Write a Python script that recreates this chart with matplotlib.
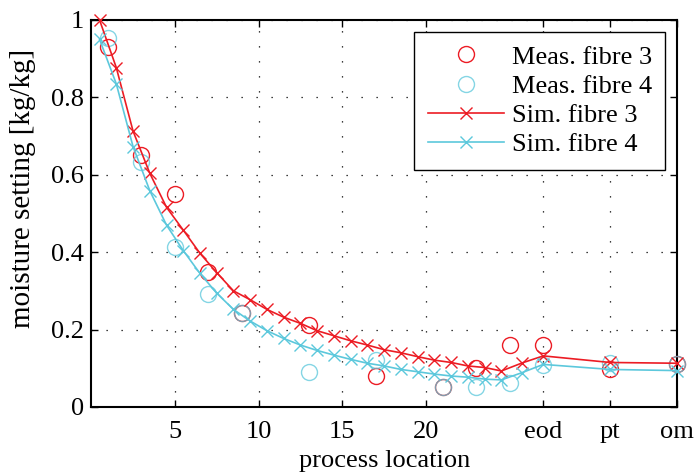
import numpy as np
import matplotlib.pyplot as plt

# --- dati ---
x_meas = [1, 3, 5, 7, 9, 13, 17, 21, 23, 25, 27, 31, 35]
meas_f3 = [0.93, 0.65, 0.55, 0.35, 0.242, 0.212, 0.080, 0.051, 0.100, 0.160, 0.160, 0.097, 0.112]
meas_f4 = [0.953, 0.633, 0.414, 0.292, 0.242, 0.091, 0.121, 0.051, 0.051, 0.061, 0.109, 0.114, 0.112]

x_sim = [0.5, 1.5, 2.5, 3.5, 4.5, 5.5, 6.5, 7.5, 8.5, 9.5, 10.5, 11.5, 12.5,
         13.5, 14.5, 15.5, 16.5, 17.5, 18.5, 19.5, 20.5, 21.5, 22.5, 23.5,
         24.5, 25.75, 27, 31, 35]
sim_f3 = [1.0, 0.877, 0.713, 0.604, 0.516, 0.457, 0.397, 0.347, 0.300, 0.277,
          0.252, 0.232, 0.216, 0.197, 0.184, 0.171, 0.160, 0.148, 0.140, 0.130,
          0.121, 0.115, 0.106, 0.102, 0.093, 0.114, 0.132, 0.115, 0.113]
sim_f4 = [0.95, 0.835, 0.673, 0.559, 0.470, 0.404, 0.345, 0.294, 0.252, 0.222,
          0.197, 0.177, 0.160, 0.146, 0.134, 0.123, 0.113, 0.106, 0.097, 0.091,
          0.085, 0.080, 0.077, 0.072, 0.070, 0.089, 0.110, 0.097, 0.094]

xtick_pos = [5, 10, 15, 20, 27, 31, 35]
xtick_lab = ['5', '10', '15', '20', 'eod', 'pt', 'om']
ytick_pos = [0, 0.2, 0.4, 0.6, 0.8, 1]
ytick_lab = ['0', '0.2', '0.4', '0.6', '0.8', '1']

RED = '#ec1c24'
CYAN = '#5cc8dc'

plt.rcParams['font.family'] = ['Liberation Serif', 'DejaVu Serif']

fig = plt.figure(figsize=(6.96, 4.76), dpi=100)
ax = fig.add_axes([0.131, 0.145, 0.842, 0.813])

# misure
ax.plot(x_meas, meas_f3, 'o', ms=11.5, mfc='none', mec=RED, mew=1.0,
        label='Meas. fibre 3', clip_on=False, zorder=3)
ax.plot(x_meas, meas_f4, 'o', ms=11.5, mfc='none', mec=CYAN, mew=1.0,
        alpha=0.75, label='Meas. fibre 4', clip_on=False, zorder=3)

# simulazioni
ax.plot(x_sim, sim_f3, '-x', color=RED, lw=1.2, ms=8.5, mew=1.0,
        label='Sim. fibre 3', clip_on=False, zorder=4)
ax.plot(x_sim, sim_f4, '-x', color=CYAN, lw=1.2, ms=8.5, mew=1.0,
        label='Sim. fibre 4', clip_on=False, zorder=4)

ax.set_xlim(0, 35)
ax.set_ylim(0, 1)
ax.set_xticks(xtick_pos)
ax.set_xticklabels(xtick_lab)
ax.set_yticks(ytick_pos)
ax.set_yticklabels(ytick_lab)

ax.grid(True, linestyle=(0, (1, 11)), color='black', lw=0.9)
ax.tick_params(direction='in', top=True, right=True, length=5, width=1,
               labelsize=19, pad=5)
ax.tick_params(axis='x', pad=10)
for s in ax.spines.values():
    s.set_linewidth(1.5)

ax.set_xlabel('process location', fontsize=19, labelpad=5)
ax.set_ylabel('moisture setting [kg/kg]', fontsize=21)
ax.yaxis.set_label_coords(-0.094, 0.566)

leg = ax.legend(loc='upper right', fontsize=19, borderaxespad=0.45,
                fancybox=False, framealpha=1, edgecolor='black',
                borderpad=0.5, labelspacing=0.22, handlelength=2.9,
                handletextpad=0.3)
leg.get_frame().set_linewidth(1.0)

fig.savefig('out.png', dpi=100)
